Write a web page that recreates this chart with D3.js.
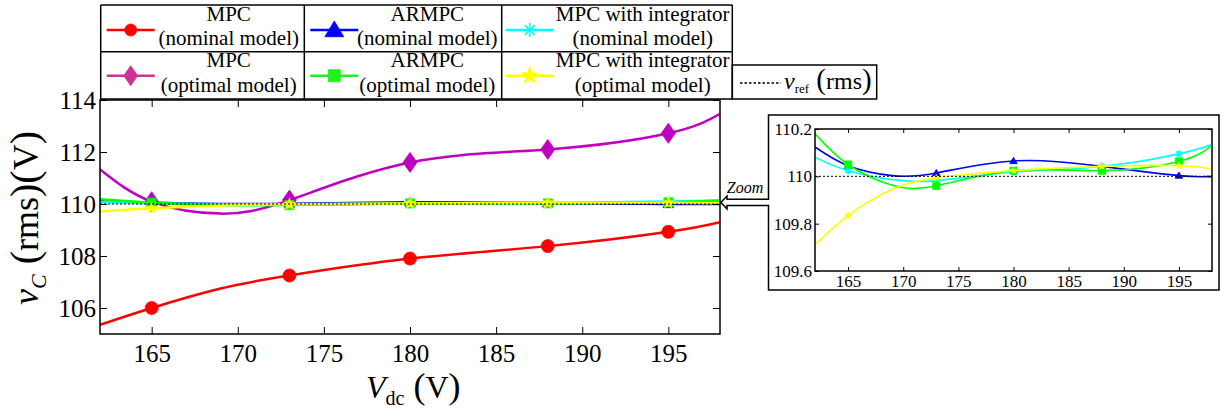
<!DOCTYPE html>
<html>
<head>
<meta charset="utf-8">
<script src="https://cdn.jsdelivr.net/npm/d3@7"></script>
<style>
body { margin: 0; background: #fff; }
svg { display: block; font-family: "Liberation Serif", "Times New Roman", serif; }
</style>
</head>
<body>
<svg id="chart" width="1227" height="419"></svg>
<script>
// Vdc positions (first/last are where the curve stops)
const vdc = [162, 165, 169, 173, 180, 188, 195, 198];
// Vdc positions that carry a marker
const measured = [165, 173, 180, 188, 195];

const mpcNominal   = [105.35, 106.0, 106.75, 107.25, 107.9, 108.38, 108.93, 109.3];
const armpcNominal = [110.124, 110.045, 110.003, 110.014, 110.065, 110.042, 110.003, 110.0];
const intNominal   = [110.08, 110.024, 109.986, 109.982, 110.018, 110.042, 110.095, 110.134];
const mpcOptimal   = [111.33, 110.09, 109.63, 110.15, 111.6, 112.1, 112.72, 113.47];
const armpcOptimal = [110.18, 110.05, 109.962, 109.96, 110.024, 110.024, 110.063, 110.13];
const intOptimal   = [109.71, 109.834, 109.945, 109.993, 110.024, 110.042, 110.045, 110.031];
const vref = 110;

const xTicks = [165, 170, 175, 180, 185, 190, 195];
const mainYTicks = [106, 108, 110, 112, 114];
const zoomYTicks = [109.6, 109.8, 110, 110.2];

const series = [
    {name: 'MPC', sub: '(nominal model)', values: mpcNominal, color: '#ff0000', marker: 'circle', big: 6.5},
    {name: 'ARMPC', sub: '(nominal model)', values: armpcNominal, color: '#0000ff', marker: 'triangle', big: 5},
    {name: 'MPC with integrator', sub: '(nominal model)', values: intNominal, color: '#00ffff', marker: 'asterisk', big: 5},
    {name: 'MPC', sub: '(optimal model)', values: mpcOptimal, color: '#c000c0', legendColor: '#cc3399', marker: 'diamond', big: 10},
    {name: 'ARMPC', sub: '(optimal model)', values: armpcOptimal, color: '#00ff00', legendColor: '#22ee22', marker: 'square', big: 4.5},
    {name: 'MPC with integrator', sub: '(optimal model)', values: intOptimal, color: '#ffff00', marker: 'star', big: 6}
];

const svg = d3.select('#chart');

function markerPath(type, s) {
    if (type == 'circle') {
        return d3.symbol(d3.symbolCircle, Math.PI * s * s)();
    }
    if (type == 'triangle') {
        return `M0,${-s}L${s * 1.05},${s * 0.75}L${-s * 1.05},${s * 0.75}Z`;
    }
    if (type == 'square') {
        return `M${-s},${-s}h${2 * s}v${2 * s}h${-2 * s}Z`;
    }
    if (type == 'diamond') {
        return `M0,${-s}L${s * 0.7},0L0,${s}L${-s * 0.7},0Z`;
    }
    if (type == 'star') {
        let p = d3.path();
        for (let i = 0; i < 10; i++) {
            let r = i % 2 ? s * 0.42 : s;
            let a = -Math.PI / 2 + i * Math.PI / 5;
            if (i == 0) p.moveTo(r * Math.cos(a), r * Math.sin(a));
            else p.lineTo(r * Math.cos(a), r * Math.sin(a));
        }
        p.closePath();
        return p.toString();
    }
    // asterisk: plus and cross
    let d = s * 0.7;
    return `M0,${-s}V${s}M${-s},0H${s}M${-d},${-d}L${d},${d}M${-d},${d}L${d},${-d}`;
}

function drawMarker(g, type, color, x, y, s) {
    let m = g.append('path')
        .attr('d', markerPath(type, s))
        .attr('transform', `translate(${x},${y})`);
    if (type == 'asterisk') {
        m.attr('fill', 'none').attr('stroke', color).attr('stroke-width', 1.6);
    } else {
        m.attr('fill', color).attr('stroke', color).attr('stroke-width', 0.8);
    }
}

function styleAxis(g, size) {
    g.select('.domain').remove();
    g.attr('font-family', '"Liberation Serif", "Times New Roman", serif')
        .attr('font-size', size);
    g.selectAll('.tick line').attr('stroke', '#000').attr('stroke-width', 1);
    g.selectAll('.tick text').attr('fill', '#000');
}

function drawPanel(id, x, y, yTicks, opts) {
    const g = svg.append('g');
    const [x0, x1] = x.range();
    const [y0, y1] = y.range();

    g.append('clipPath').attr('id', id)
        .append('rect').attr('x', x0).attr('y', y1).attr('width', x1 - x0).attr('height', y0 - y1);

    const plot = g.append('g').attr('clip-path', `url(#${id})`);
    const line = d3.line()
        .x(d => x(d[0]))
        .y(d => y(d[1]))
        .curve(d3.curveNatural);

    series.forEach(s => {
        if (opts.skip && opts.skip.includes(s.marker)) return;
        let pts = vdc.map((v, i) => [v, s.values[i]]);
        plot.append('path')
            .datum(pts)
            .attr('d', line)
            .attr('fill', 'none')
            .attr('stroke', s.color)
            .attr('stroke-width', opts.lineWidth);
        pts.filter(p => measured.includes(p[0])).forEach(p => {
            drawMarker(plot, s.marker, s.color, x(p[0]), y(p[1]), opts.markerSize ? opts.markerSize : s.big);
        });
    });

    plot.append('line')
        .attr('x1', x0).attr('x2', x1)
        .attr('y1', y(vref)).attr('y2', y(vref))
        .attr('stroke', '#000').attr('stroke-width', 1)
        .attr('stroke-dasharray', '2,2');

    g.append('g').attr('transform', `translate(0,${y0})`)
        .call(d3.axisBottom(x).tickValues(xTicks).tickSizeInner(-opts.tick).tickSizeOuter(0).tickPadding(opts.xPad))
        .call(a => styleAxis(a, opts.font));
    g.append('g').attr('transform', `translate(0,${y1})`)
        .call(d3.axisTop(x).tickValues(xTicks).tickSizeInner(-opts.tick).tickSizeOuter(0).tickFormat(''))
        .call(a => styleAxis(a, opts.font));
    g.append('g').attr('transform', `translate(${x0},0)`)
        .call(d3.axisLeft(y).tickValues(yTicks).tickSizeInner(-opts.tick).tickSizeOuter(0).tickPadding(opts.yPad)
            .tickFormat(d => +d.toFixed(1)))
        .call(a => styleAxis(a, opts.font));
    g.append('g').attr('transform', `translate(${x1},0)`)
        .call(d3.axisRight(y).tickValues(yTicks).tickSizeInner(-opts.tick).tickSizeOuter(0).tickFormat(''))
        .call(a => styleAxis(a, opts.font));

    g.append('rect')
        .attr('x', x0).attr('y', y1)
        .attr('width', x1 - x0).attr('height', y0 - y1)
        .attr('fill', 'none').attr('stroke', '#000').attr('stroke-width', 1.5);
    return g;
}

// main plot
const xMain = d3.scaleLinear().domain([162, 198]).range([100, 720]);
const yMain = d3.scaleLinear().domain([105, 114]).range([334, 100]);
drawPanel('clipMain', xMain, yMain, mainYTicks, {lineWidth: 2.5, tick: 7, font: 25, xPad: 10, yPad: 4});

// zoomed inset
const xZoom = d3.scaleLinear().domain([162, 198]).range([815, 1212]);
const yZoom = d3.scaleLinear().domain([109.6, 110.2]).range([271, 129]);
drawPanel('clipZoom', xZoom, yZoom, zoomYTicks,
    {lineWidth: 1.6, tick: 4, font: 17, xPad: 4, yPad: 3, markerSize: 3.6, skip: ['circle', 'diamond']});

// inset frame with the arrow pointing back at the main plot
svg.append('path')
    .attr('d', 'M768.5,199.3V115H1219V290H768.5V205.5H727V208.8L720.8,202.4L727,196V199.3Z')
    .attr('fill', 'none').attr('stroke', '#000').attr('stroke-width', 1.5);
svg.append('text')
    .attr('x', 745).attr('y', 193)
    .attr('text-anchor', 'middle')
    .attr('font-size', 16).attr('font-style', 'italic')
    .text('Zoom');

// legend table
const colX = [100.7, 304.3, 501.7, 732.3];
const rowY = [5, 51.7, 99];
const legend = svg.append('g').attr('stroke', '#000').attr('stroke-width', 1.5);
rowY.forEach(yy => legend.append('line').attr('x1', colX[0]).attr('x2', colX[3]).attr('y1', yy).attr('y2', yy));
colX.forEach(xx => legend.append('line').attr('x1', xx).attr('x2', xx).attr('y1', rowY[0]).attr('y2', rowY[2]));

const textOffset = [128, 123, 141];
series.forEach((s, i) => {
    let col = i % 3;
    let row = Math.floor(i / 3);
    let left = colX[col];
    let top = rowY[row];
    let color = s.legendColor ? s.legendColor : s.color;
    let my = top + (row == 0 ? 25 : 24);
    let lx = col == 2 ? left + 4 : left + 6;
    svg.append('line')
        .attr('x1', lx).attr('x2', lx + 48)
        .attr('y1', my).attr('y2', my)
        .attr('stroke', color).attr('stroke-width', 2.5);
    let sizes = {circle: 6, triangle: 9, asterisk: 7, diamond: 10, square: 6, star: 9};
    drawMarker(svg, s.marker, color, lx + 24, my, sizes[s.marker]);
    svg.append('text')
        .attr('x', left + textOffset[col]).attr('y', top + 15.5)
        .attr('text-anchor', 'middle').attr('font-size', 21)
        .text(s.name);
    svg.append('text')
        .attr('x', left + textOffset[col]).attr('y', top + 40)
        .attr('text-anchor', 'middle').attr('font-size', 21)
        .text(s.sub);
});

// v_ref legend box
svg.append('rect')
    .attr('x', 732.3).attr('y', 65).attr('width', 144.4).attr('height', 34)
    .attr('fill', 'none').attr('stroke', '#000').attr('stroke-width', 1.5);
svg.append('line')
    .attr('x1', 740).attr('x2', 781).attr('y1', 83).attr('y2', 83)
    .attr('stroke', '#000').attr('stroke-width', 1.5).attr('stroke-dasharray', '2.5,2');
const refText = svg.append('text').attr('x', 784).attr('y', 89).attr('font-size', 24);
refText.append('tspan').attr('font-style', 'italic').text('v');
refText.append('tspan').attr('font-size', 13).attr('dy', 4).text('ref');
refText.append('tspan').attr('dy', -4).attr('font-size', 29).text(' (');
refText.append('tspan').text('rms');
refText.append('tspan').attr('font-size', 29).text(')');

// axis titles
const xLabel = svg.append('text').attr('x', 366).attr('y', 398).attr('font-size', 32);
xLabel.append('tspan').attr('font-style', 'italic').text('V');
xLabel.append('tspan').attr('font-size', 20).attr('dy', 7).text('dc');
xLabel.append('tspan').attr('dy', -7).attr('font-size', 36).text(' (');
xLabel.append('tspan').text('V');
xLabel.append('tspan').attr('font-size', 36).text(')');

const yLabel = svg.append('text')
    .attr('transform', 'translate(38,218) rotate(-90)')
    .attr('text-anchor', 'middle').attr('font-size', 36);
yLabel.append('tspan').attr('font-style', 'italic').text('v');
yLabel.append('tspan').attr('font-style', 'italic').attr('font-size', 22).attr('dy', 8).text('C');
yLabel.append('tspan').attr('dy', -8).attr('font-size', 40).text(' (');
yLabel.append('tspan').text('rms');
yLabel.append('tspan').attr('font-size', 40).text(')(');
yLabel.append('tspan').text('V');
yLabel.append('tspan').attr('font-size', 40).text(')');
</script>
</body>
</html>
